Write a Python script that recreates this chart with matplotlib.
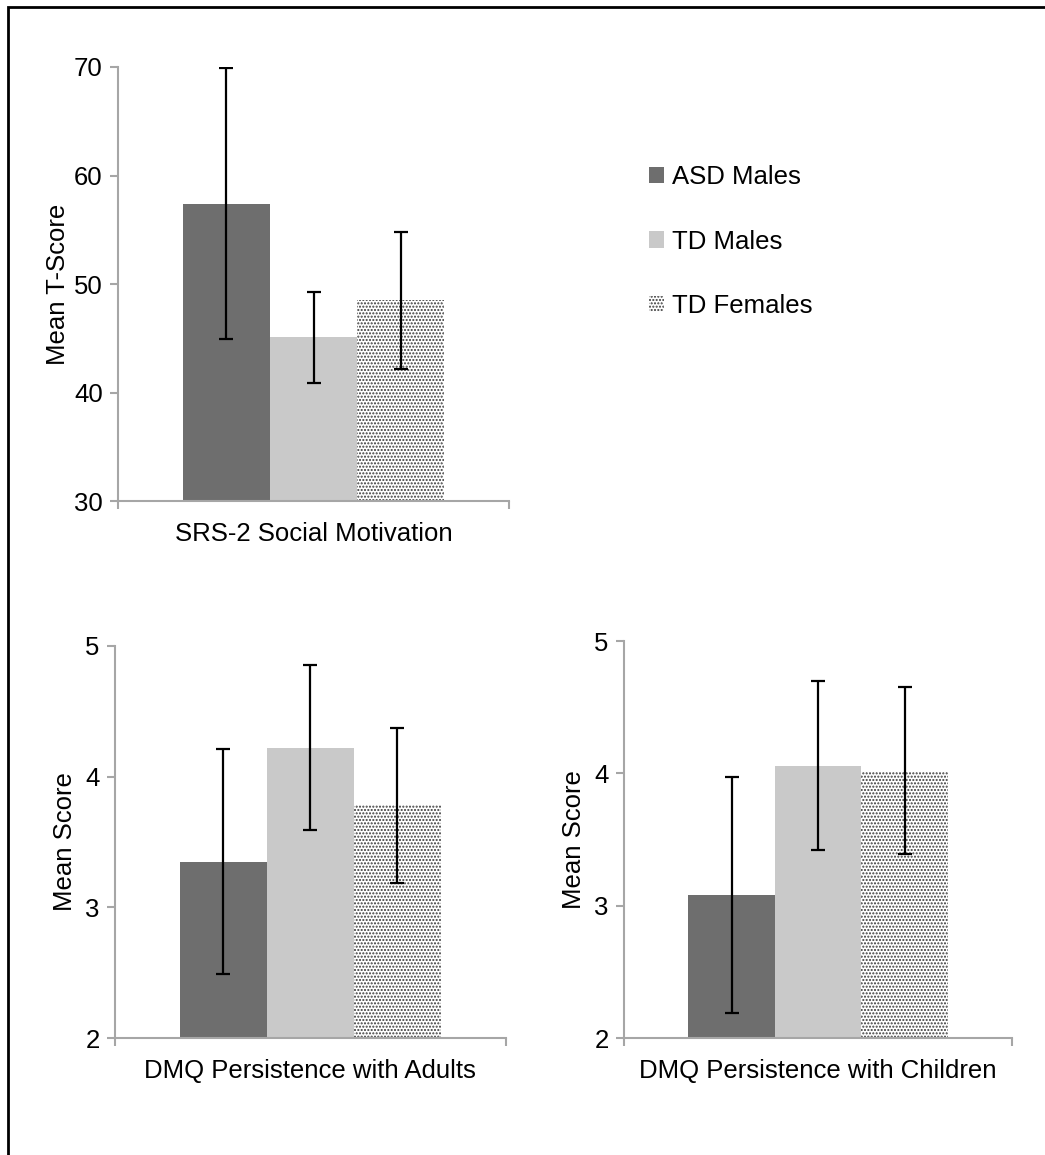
import numpy as np
import matplotlib
matplotlib.use('Agg')
import matplotlib.pyplot as plt
from matplotlib.patches import Patch, Rectangle

plt.rcParams['font.family'] = ['Liberation Sans', 'DejaVu Sans']
plt.rcParams['hatch.linewidth'] = 1.0

groups = ['ASD Males', 'TD Males', 'TD Females']

# SRS-2 Social Motivation (T-scores)
srs_mean = [57.4, 45.1, 48.5]
srs_err = [12.5, 4.2, 6.3]

# DMQ Persistence with Adults
adult_mean = [3.35, 4.22, 3.78]
adult_err = [0.86, 0.63, 0.59]

# DMQ Persistence with Children
child_mean = [3.08, 4.06, 4.02]
child_err = [0.89, 0.64, 0.63]

colors = ['#6e6e6e', '#c9c9c9', 'white']
hatches = [None, None, '.....']
dot_col = '#3a3a3a'
spine_col = '#a6a6a6'
fs = 18.5

fig = plt.figure(figsize=(10.45, 11.55), dpi=100)


def draw_panel(ax, means, errs, ylim, yticks, ylabel, xlabel, ypad):
    width = 0.223
    xs = 0.5 + (np.arange(3) - 1) * width
    for i in range(3):
        ax.bar(xs[i], means[i] - ylim[0], width, bottom=ylim[0],
               color=colors[i], hatch=hatches[i],
               edgecolor=dot_col if hatches[i] else colors[i],
               linewidth=0)
    ax.errorbar(xs, means, yerr=errs, fmt='none', ecolor='black',
                elinewidth=1.6, capsize=5, capthick=1.6)
    ax.set_xlim(0, 1)
    ax.set_ylim(*ylim)
    ax.set_yticks(yticks)
    ax.set_xticks([0, 1])
    ax.set_xticklabels(['', ''])
    for s in ['top', 'right']:
        ax.spines[s].set_visible(False)
    for s in ['left', 'bottom']:
        ax.spines[s].set_color(spine_col)
        ax.spines[s].set_linewidth(1.5)
    ax.tick_params(axis='both', colors=spine_col, labelcolor='black',
                   length=6, width=1.5, labelsize=fs, pad=5)
    ax.set_ylabel(ylabel, fontsize=fs, labelpad=ypad)
    ax.set_xlabel(xlabel, fontsize=fs, labelpad=4)


ax1 = fig.add_axes([0.1129, 0.5662, 0.3742, 0.3758])
draw_panel(ax1, srs_mean, srs_err, (30, 70), [30, 40, 50, 60, 70],
           'Mean T-Score', 'SRS-2 Social Motivation', 3)

ax2 = fig.add_axes([0.1100, 0.1010, 0.3739, 0.3400])
draw_panel(ax2, adult_mean, adult_err, (2, 5), [2, 3, 4, 5],
           'Mean Score', 'DMQ Persistence with Adults', 6)

ax3 = fig.add_axes([0.5971, 0.1010, 0.3716, 0.3440])
draw_panel(ax3, child_mean, child_err, (2, 5), [2, 3, 4, 5],
           'Mean Score', 'DMQ Persistence with Children', 6)

handles = [Patch(facecolor=colors[i], hatch=hatches[i],
                 edgecolor=dot_col if hatches[i] else colors[i], linewidth=0)
           for i in range(3)]
fig.legend(handles, groups, loc='upper left', bbox_to_anchor=(0.611, 0.866),
           frameon=False, fontsize=fs, handlelength=0.6, handleheight=0.6,
           handletextpad=0.3, labelspacing=1.58, borderaxespad=0)

# outer frame (left and top edges visible)
fig.patches.append(Rectangle((8 / 1045, -0.05), 1.2, 1 - 7 / 1155 + 0.05,
                             transform=fig.transFigure, fill=False,
                             edgecolor='black', linewidth=2))

fig.savefig('out.png', dpi=100)
